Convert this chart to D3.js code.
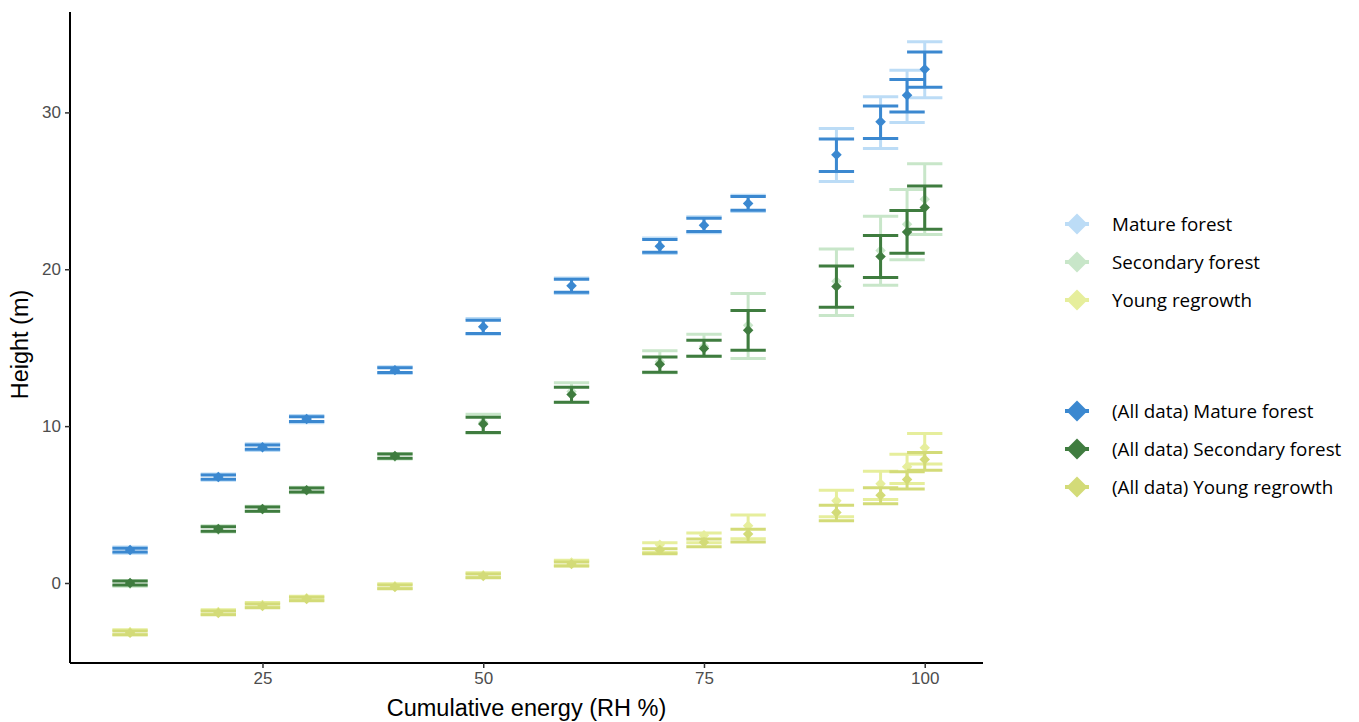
<!DOCTYPE html>
<html>
<head>
<meta charset="utf-8">
<script src="https://cdn.jsdelivr.net/npm/d3@7"></script>
<style>
  body { margin: 0; background: #fff; }
  .tick text { font-family: "Liberation Sans", Arial, sans-serif; font-size: 17px; fill: #4d4d4d; }
  .title { font-family: "Liberation Sans", Arial, sans-serif; font-size: 23.5px; fill: #000; }
  .legend text { font-family: "Open Sans", sans-serif; font-size: 18.8px; fill: #000; }
</style>
</head>
<body>
<svg id="chart"></svg>
<script>
// cumulative energy steps (x)
var cumEnergy = [10, 20, 25, 30, 40, 50, 60, 70, 75, 80, 90, 95, 98, 100]
var xTicks = [25, 50, 75, 100]
var yTicks = [0, 10, 20, 30]

// subset data (light colours)
var matureMean = [2.1, 6.75, 8.66, 10.45, 13.57, 16.33, 18.95, 21.46, 22.8, 24.2, 27.3, 29.4, 31.1, 32.75]
var matureLo = [1.9, 6.55, 8.45, 10.22, 13.35, 15.85, 18.45, 21.0, 22.32, 23.68, 25.6, 27.7, 29.36, 30.94]
var matureHi = [2.3, 6.95, 8.87, 10.68, 13.79, 16.86, 19.45, 22.0, 23.35, 24.72, 28.98, 31.0, 32.68, 34.5]

var secondaryMean = [-0.05, 3.4, 4.7, 5.9, 8.05, 10.25, 12.2, 14.1, 15.1, 16.43, 19.24, 21.2, 22.87, 24.46]
var secondaryLo = [-0.2, 3.25, 4.55, 5.75, 7.9, 9.55, 11.5, 13.4, 14.45, 14.31, 17.05, 18.98, 20.6, 22.21]
var secondaryHi = [0.15, 3.65, 4.9, 6.1, 8.25, 10.76, 12.76, 14.8, 15.86, 18.45, 21.29, 23.38, 25.08, 26.73]

var youngMean = [-3.12, -1.85, -1.4, -0.97, -0.2, 0.5, 1.3, 2.44, 3.05, 3.65, 5.24, 6.32, 7.41, 8.62]
var youngLo = [-3.3, -2.0, -1.55, -1.1, -0.35, 0.35, 1.1, 1.95, 2.57, 2.82, 4.22, 5.33, 6.35, 7.58]
var youngHi = [-2.98, -1.7, -1.25, -0.85, -0.05, 0.65, 1.45, 2.57, 3.18, 4.33, 5.92, 7.13, 8.2, 9.53]

// all data (dark colours)
var matureAllMean = [2.1, 6.75, 8.66, 10.45, 13.57, 16.33, 18.95, 21.46, 22.8, 24.2, 27.3, 29.4, 31.1, 32.75]
var matureAllLo = [1.98, 6.62, 8.52, 10.3, 13.42, 15.9, 18.53, 21.08, 22.4, 23.76, 26.24, 28.34, 30.02, 31.6]
var matureAllHi = [2.22, 6.88, 8.8, 10.6, 13.72, 16.75, 19.36, 21.9, 23.25, 24.64, 28.3, 30.4, 32.1, 33.85]

var secondaryAllMean = [0.0, 3.44, 4.71, 5.92, 8.09, 10.13, 12.02, 13.95, 14.95, 16.11, 18.9, 20.81, 22.38, 23.93]
var secondaryAllLo = [-0.12, 3.3, 4.58, 5.8, 7.95, 9.6, 11.53, 13.44, 14.46, 14.84, 17.58, 19.47, 21.02, 22.55]
var secondaryAllHi = [0.12, 3.58, 4.85, 6.05, 8.22, 10.57, 12.48, 14.41, 15.48, 17.37, 20.21, 22.15, 23.74, 25.3]

var youngAllMean = [-3.18, -1.91, -1.46, -1.02, -0.25, 0.45, 1.21, 2.1, 2.6, 3.12, 4.5, 5.59, 6.6, 7.88]
var youngAllLo = [-3.3, -2.03, -1.58, -1.13, -0.37, 0.33, 1.08, 1.87, 2.31, 2.61, 3.97, 5.05, 6.0, 7.18]
var youngAllHi = [-3.06, -1.79, -1.34, -0.91, -0.13, 0.57, 1.34, 2.19, 2.8, 3.42, 4.95, 6.07, 7.09, 8.32]

var lightLabels = ["Mature forest", "Secondary forest", "Young regrowth"]
var darkLabels = ["(All data) Mature forest", "(All data) Secondary forest", "(All data) Young regrowth"]
var lightColors = ["#bcdcf6", "#c8e6c9", "#e6ee9c"]
var darkColors = ["#3b88d0", "#3f7c3f", "#d3db78"]

var makeRows = function (mean, lo, hi) {
    return cumEnergy.map(function (x, i) {
        return { x: x, mean: mean[i], lo: lo[i], hi: hi[i] }
    })
}

var lightSeries = [
    makeRows(matureMean, matureLo, matureHi),
    makeRows(secondaryMean, secondaryLo, secondaryHi),
    makeRows(youngMean, youngLo, youngHi)
]
var darkSeries = [
    makeRows(matureAllMean, matureAllLo, matureAllHi),
    makeRows(secondaryAllMean, secondaryAllLo, secondaryAllHi),
    makeRows(youngAllMean, youngAllLo, youngAllHi)
]

var screen = { width: 1359, height: 722 }
var margins = { left: 70, top: 12, right: 376, bottom: 59 }
var graph = {
    width: screen.width - margins.left - margins.right,
    height: screen.height - margins.top - margins.bottom
}

var svg = d3.select("#chart")
    .attr("width", screen.width)
    .attr("height", screen.height)

var xScale = d3.scaleLinear()
    .domain([3.2, 106.6])
    .range([0, graph.width])

var yScale = d3.scaleLinear()
    .domain([-5.1, 36.4])
    .range([graph.height, 0])

var target = svg.append("g")
    .attr("transform", "translate(" + margins.left + "," + margins.top + ")")

var capHalf = 2  // cap half width in x units
var diamond = d3.symbol().type(d3.symbolDiamond2).size(70)

var drawSeries = function (rows, color) {
    var g = target.append("g")
        .attr("stroke", color)
        .attr("stroke-width", 3)
        .attr("fill", "none")
    var bars = g.selectAll("g")
        .data(rows)
        .enter()
        .append("g")
    bars.append("line")
        .attr("x1", function (d) { return xScale(d.x) })
        .attr("x2", function (d) { return xScale(d.x) })
        .attr("y1", function (d) { return yScale(d.lo) })
        .attr("y2", function (d) { return yScale(d.hi) })
    bars.append("line")
        .attr("x1", function (d) { return xScale(d.x - capHalf) })
        .attr("x2", function (d) { return xScale(d.x + capHalf) })
        .attr("y1", function (d) { return yScale(d.lo) })
        .attr("y2", function (d) { return yScale(d.lo) })
    bars.append("line")
        .attr("x1", function (d) { return xScale(d.x - capHalf) })
        .attr("x2", function (d) { return xScale(d.x + capHalf) })
        .attr("y1", function (d) { return yScale(d.hi) })
        .attr("y2", function (d) { return yScale(d.hi) })
    bars.append("path")
        .attr("d", diamond)
        .attr("stroke", "none")
        .attr("fill", color)
        .attr("transform", function (d) {
            return "translate(" + xScale(d.x) + "," + yScale(d.mean) + ")"
        })
}

lightSeries.forEach(function (rows, i) { drawSeries(rows, lightColors[i]) })
darkSeries.forEach(function (rows, i) { drawSeries(rows, darkColors[i]) })

// axes
var xAxis = d3.axisBottom(xScale).tickValues(xTicks).tickSize(5).tickPadding(4)
var yAxis = d3.axisLeft(yScale).tickValues(yTicks).tickSize(5).tickPadding(4)

var gx = target.append("g")
    .attr("transform", "translate(0," + graph.height + ")")
    .call(xAxis)
var gy = target.append("g")
    .call(yAxis)

gx.select(".domain").attr("d", "M0,0H" + graph.width).attr("stroke", "#000").attr("stroke-width", 2)
gy.select(".domain").attr("d", "M0," + graph.height + "V0").attr("stroke", "#000").attr("stroke-width", 2)
svg.selectAll(".tick line").attr("stroke", "#333").attr("stroke-width", 1.5)

// titles
svg.append("text")
    .classed("title", true)
    .attr("text-anchor", "middle")
    .attr("x", margins.left + graph.width / 2)
    .attr("y", 716)
    .text("Cumulative energy (RH %)")

svg.append("text")
    .classed("title", true)
    .attr("text-anchor", "middle")
    .attr("transform", "translate(28," + (margins.top + graph.height / 2 + 7) + ") rotate(-90)")
    .text("Height (m)")

// legend
var keyDiamond = d3.symbol().type(d3.symbolDiamond2).size(280)
var drawLegend = function (labels, colors, top) {
    var legend = svg.append("g")
        .classed("legend", true)
        .attr("transform", "translate(1077," + top + ")")
    var entries = legend.selectAll("g")
        .data(labels)
        .enter()
        .append("g")
        .attr("transform", function (d, i) { return "translate(0," + (i * 38) + ")" })
    entries.append("line")
        .attr("x1", -12).attr("x2", 12)
        .attr("stroke", function (d, i) { return colors[i] })
        .attr("stroke-width", 4)
    entries.append("path")
        .attr("d", keyDiamond)
        .attr("fill", function (d, i) { return colors[i] })
    entries.append("text")
        .attr("x", 35)
        .attr("dy", "0.35em")
        .text(function (d) { return d })
}

drawLegend(lightLabels, lightColors, 224)
drawLegend(darkLabels, darkColors, 411)
</script>
</body>
</html>
